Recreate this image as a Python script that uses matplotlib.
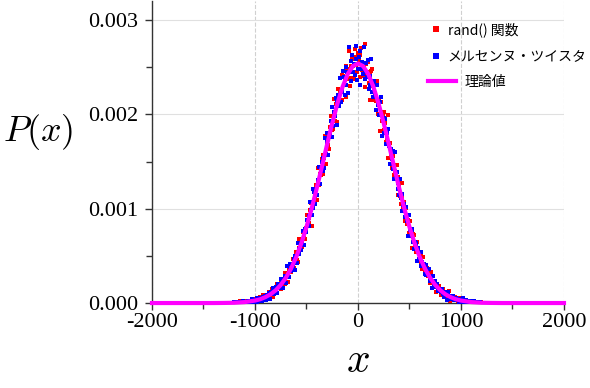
import matplotlib
matplotlib.use("Agg")
import matplotlib.pyplot as plt
import matplotlib.ticker as mticker
import numpy as np
from matplotlib import rcParams

rcParams.update({
    "font.family": ["Liberation Serif", "DejaVu Serif"],
    "mathtext.fontset": "cm",
    "axes.unicode_minus": False,
    "xtick.labelsize": 16,
    "ytick.labelsize": 16,
    "xtick.direction": "out",
    "ytick.direction": "out",
})

JP_FONT = ["Noto Sans CJK JP", "DejaVu Sans"]
COLOR_RAND = "#ff0000"
COLOR_MT = "#0000ff"
COLOR_THEORY = "#ff00ff"

# Histogram bin centres (width 8), shared by both generators.
bin_centres = np.arange(-1200, 1201, 8)

# P(x), in units of 1e-6, left (-1200) to right (+1200).
rand_p = [
    5, 0, 10, 15, 2, 0, 7, 21, 0, 11,
    7, 16, 4, 13, 0, 18, 22, 13, 7, 23,
    18, 11, 45, 4, 27, 36, 0, 45, 25, 38,
    26, 60, 51, 32, 45, 86, 35, 61, 84, 63,
    38, 90, 113, 65, 94, 90, 146, 69, 142, 132,
    119, 115, 199, 170, 161, 197, 144, 242, 224, 194,
    256, 198, 316, 271, 314, 220, 353, 381, 331, 331,
    395, 469, 370, 462, 457, 542, 458, 432, 678, 583,
    577, 670, 591, 753, 687, 765, 675, 791, 933, 814,
    901, 845, 982, 1065, 815, 1061, 1018, 1198, 1131, 1251,
    1090, 1288, 1427, 1250, 1373, 1358, 1532, 1373, 1573, 1541,
    1774, 1472, 1688, 1794, 1673, 1635, 1861, 1981, 1838, 1915,
    1846, 2164, 1934, 2114, 2104, 1914, 2271, 2142, 2245, 2157,
    2416, 2154, 2403, 2309, 2368, 2189, 2516, 2476, 2376, 2675,
    2301, 2515, 2387, 2587, 2513, 2379, 2693, 2521, 2608, 2445,
    2646,
    2574, 2395, 2627, 2705, 2474, 2407, 2516, 2741, 2291, 2537,
    2427, 2553, 2334, 2445, 2154, 2462, 2486, 2297, 2154, 2311,
    2231, 2140, 2353, 2008, 2135, 2157, 1820, 2134, 1932, 1983,
    1831, 2027, 1907, 1703, 1740, 1988, 1541, 1671, 1693, 1570,
    1431, 1556, 1577, 1361, 1401, 1330, 1463, 1146, 1331, 1235,
    1132, 1054, 1275, 1112, 1018, 1071, 866, 1007, 932, 839,
    882, 747, 872, 756, 771, 582, 729, 721, 596, 546,
    589, 647, 450, 533, 474, 503, 411, 358, 490, 391,
    352, 381, 293, 369, 291, 310, 216, 261, 324, 210,
    236, 165, 225, 224, 121, 174, 142, 176, 138, 154,
    89, 129, 152, 84, 103, 82, 116, 53, 95, 71,
    123, 20, 64, 69, 44, 31, 53, 61, 34, 37,
    20, 56, 19, 36, 29, 2, 39, 17, 25, 8,
    37, 7, 20, 12, 13, 0, 17, 13, 5, 21,
    0, 9, 0, 11, 5, 0, 14, 4, 8, 0,
]
mt_p = [
    9, 3, 11, 0, 6, 0, 16, 10, 0, 9,
    4, 22, 9, 0, 15, 10, 21, 7, 20, 10,
    19, 47, 0, 11, 37, 23, 34, 12, 53, 37,
    24, 33, 58, 57, 21, 60, 55, 78, 34, 81,
    55, 85, 108, 43, 112, 92, 116, 160, 91, 112,
    139, 166, 108, 200, 159, 179, 166, 250, 232, 164,
    227, 282, 265, 212, 390, 291, 277, 360, 411, 335,
    400, 385, 471, 353, 494, 498, 427, 636, 517, 577,
    633, 559, 647, 760, 762, 616, 787, 748, 883, 839,
    919, 814, 1075, 984, 934, 1010, 1206, 1181, 1046, 1209,
    1150, 1305, 1282, 1446, 1262, 1401, 1498, 1398, 1539, 1431,
    1749, 1582, 1705, 1804, 1568, 1783, 1787, 1928, 1764, 2073,
    1877, 2027, 1986, 2177, 1883, 2135, 2208, 2090, 2382, 2126,
    2258, 2237, 2462, 2392, 2203, 2307, 2504, 2452, 2223, 2711,
    2454, 2563, 2351, 2634, 2454, 2533, 2422, 2722, 2584, 2362,
    2481,
    2610, 2667, 2309, 2481, 2556, 2430, 2716, 2375, 2445, 2549,
    2392, 2577, 2264, 2410, 2307, 2592, 2239, 2179, 2343, 2353,
    2210, 2045, 2311, 2103, 2135, 1988, 2135, 2186, 1775, 1940,
    1957, 1806, 1949, 1682, 1804, 1683, 1846, 1662, 1472, 1638,
    1524, 1607, 1424, 1319, 1597, 1347, 1387, 1206, 1271, 1150,
    1311, 1114, 977, 1155, 1035, 1054, 910, 1019, 870, 888,
    715, 933, 772, 706, 771, 787, 648, 572, 652, 602,
    639, 449, 581, 471, 474, 545, 395, 438, 389, 416,
    306, 398, 301, 327, 300, 356, 233, 240, 269, 155,
    282, 198, 238, 171, 179, 199, 125, 154, 128, 154,
    119, 149, 92, 68, 110, 117, 85, 30, 117, 58,
    73, 39, 70, 50, 79, 36, 28, 44, 55, 30,
    34, 40, 6, 46, 23, 14, 53, 6, 26, 14,
    27, 5, 10, 20, 14, 0, 21, 8, 3, 9,
    17, 3, 0, 12, 5, 8, 0, 16, 0, 2,
]

# Theoretical curve, also in units of 1e-6.
theory_x = [
    -2000, -1500, -1400, -1300, -1200, -1100, -1000, -950, -900, -850,
    -800, -750, -700, -650, -600, -550, -500, -450, -400, -350,
    -300, -250, -200, -150, -100, -50, 0, 50, 100, 150,
    200, 250, 300, 350, 400, 450, 500, 550, 600, 650,
    700, 750, 800, 850, 900, 950, 1000, 1100, 1200, 1300,
    1400, 1500, 2000,
]
theory_p = [
    0, 0, 0, 1, 3, 10, 26, 40, 62, 92,
    134, 192, 268, 365, 486, 633, 806, 1002, 1218, 1447,
    1680, 1906, 2114, 2291, 2426, 2511, 2540, 2511, 2426, 2291,
    2114, 1906, 1680, 1447, 1218, 1002, 806, 633, 486, 365,
    268, 192, 134, 92, 62, 40, 26, 10, 3, 1,
    0, 0, 0,
]

labels = ["rand() 関数", "メルセンヌ・ツイスタ", "理論値"]

fig = plt.figure(figsize=(5.9, 3.88), dpi=100)
ax = fig.add_axes([0.2576, 0.219, 0.6983, 0.778])

h_rand, = ax.plot(bin_centres, np.array(rand_p) * 1e-6, ls="none", marker="s",
                  ms=2.2, mew=0, color=COLOR_RAND, zorder=3, label=labels[0])
h_mt, = ax.plot(bin_centres, np.array(mt_p) * 1e-6, ls="none", marker="s",
                ms=2.2, mew=0, color=COLOR_MT, zorder=3, label=labels[1])
h_th, = ax.plot(theory_x, np.array(theory_p) * 1e-6, color=COLOR_THEORY, lw=3,
                clip_on=False, zorder=5, label=labels[2])

ax.set_xlim(-2000, 2000)
ax.set_ylim(0, 0.0032)
ax.xaxis.set_major_locator(mticker.MultipleLocator(1000))
ax.xaxis.set_minor_locator(mticker.MultipleLocator(500))
ax.yaxis.set_major_locator(mticker.MultipleLocator(0.001))
ax.yaxis.set_minor_locator(mticker.MultipleLocator(0.0005))
ax.yaxis.set_major_formatter(mticker.FormatStrFormatter("%.3f"))
ax.tick_params(which="major", length=5, width=1, color="#333333")
ax.tick_params(which="minor", length=4, width=1, color="#333333")
ax.tick_params(axis="x", which="major", pad=2)
ax.tick_params(axis="y", which="major", pad=5)

ax.grid(axis="x", which="major", ls="--", color="#d0d0d0", lw=0.8)
ax.grid(axis="y", which="major", ls="-", color="#e0e0e0", lw=0.8)
ax.set_axisbelow(True)

for side in ("top", "right"):
    ax.spines[side].set_visible(False)
for side in ("left", "bottom"):
    ax.spines[side].set_color("#333333")
    ax.spines[side].set_linewidth(1.0)

ax.set_xlabel(r"$x$", fontsize=30, va="center")
ax.xaxis.set_label_coords(0.5, -0.195)
ax.set_ylabel(r"$P(x)$", fontsize=26, rotation=0, ha="center", va="center")
ax.yaxis.set_label_coords(-0.277, 0.567)

# Two stacked legends: marker entries and the line entry have different insets.
fig.legend(handles=[h_rand, h_mt], loc="upper left",
           bbox_to_anchor=(429 / 590, 1 - 22 / 388), frameon=False,
           prop={"family": JP_FONT, "size": 10}, markerscale=2.2,
           handlelength=1.0, handletextpad=0.36, borderpad=0,
           borderaxespad=0, labelspacing=0.96)
fig.legend(handles=[h_th], loc="upper left",
           bbox_to_anchor=(428 / 590, 1 - 75 / 388), frameon=False,
           prop={"family": JP_FONT, "size": 10},
           handlelength=2.0, handletextpad=0.62, borderpad=0,
           borderaxespad=0)

fig.savefig("out.png", dpi=100)
